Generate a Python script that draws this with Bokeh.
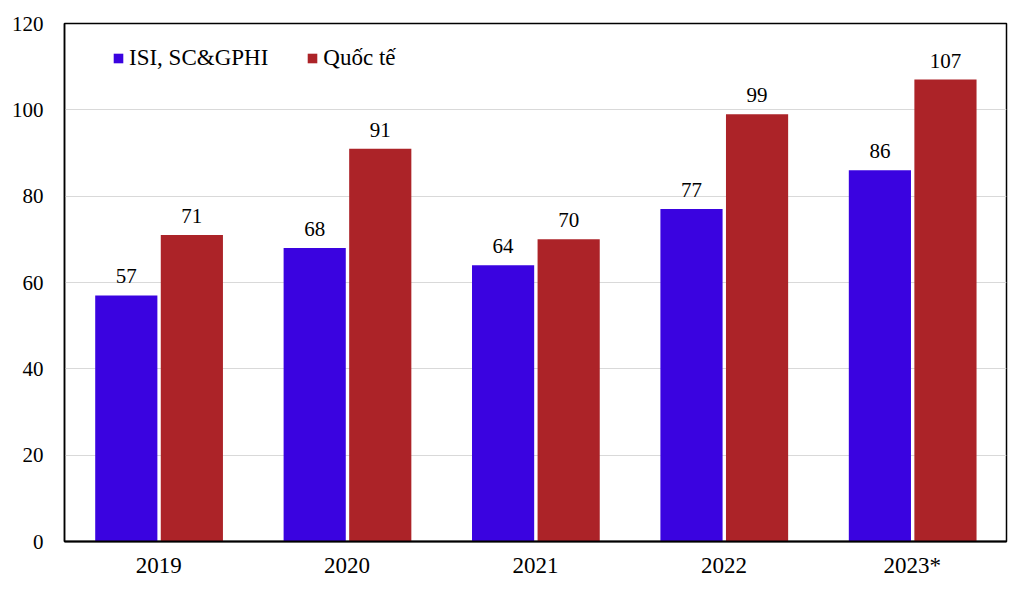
from bokeh.plotting import figure
from bokeh.models import ColumnDataSource, Legend, LegendItem, FactorRange, SingleIntervalTicker
from bokeh.transform import dodge
from bokeh.core.properties import value
from bokeh.embed import file_html
from bokeh.resources import INLINE

years = ["2019", "2020", "2021", "2022", "2023*"]
isi = [57, 68, 64, 77, 86]
quocte = [71, 91, 70, 99, 107]
series_names = ["ISI, SC&GPHI", "Quốc tế"]

FONT = "Liberation Serif"
BLUE = "#3A03E0"
RED = "#AC2328"

src = ColumnDataSource(dict(x=years, isi=isi, qt=quocte,
                            isi_lbl=[str(v) for v in isi],
                            qt_lbl=[str(v) for v in quocte]))

p = figure(width=1008, height=597, x_range=FactorRange(*years), y_range=(0, 120),
           output_backend="svg", toolbar_location=None,
           min_border_left=64, min_border_right=2, min_border_top=23, min_border_bottom=56)

b1 = p.vbar(x=dodge("x", -0.172, range=p.x_range), top="isi", width=0.33, source=src,
            fill_color=BLUE, line_color=None)
b2 = p.vbar(x=dodge("x", 0.176, range=p.x_range), top="qt", width=0.33, source=src,
            fill_color=RED, line_color=None)

p.text(x=dodge("x", -0.172, range=p.x_range), y="isi", text="isi_lbl", source=src,
       text_align="center", text_baseline="bottom", y_offset=-12,
       text_font=value(FONT), text_font_size="21px", text_color="black")
p.text(x=dodge("x", 0.176, range=p.x_range), y="qt", text="qt_lbl", source=src,
       text_align="center", text_baseline="bottom", y_offset=-12,
       text_font=value(FONT), text_font_size="21px", text_color="black")

p.yaxis.ticker = SingleIntervalTicker(interval=20)
for ax in (p.xaxis[0], p.yaxis[0]):
    ax.major_tick_line_color = None
    ax.minor_tick_line_color = None
    ax.major_label_text_font = FONT
    ax.major_label_text_color = "black"
p.yaxis.major_label_text_font_size = "21px"
p.xaxis.major_label_text_font_size = "23px"
p.yaxis.axis_line_color = "black"
p.yaxis.axis_line_width = 1.5
p.yaxis.major_label_standoff = 15
p.xaxis.axis_line_color = "black"
p.xaxis.axis_line_width = 2
p.xaxis.major_label_standoff = 5

p.xgrid.grid_line_color = None
p.ygrid.grid_line_color = "#D9D9D9"
p.ygrid.grid_line_width = 1
p.outline_line_color = "black"
p.outline_line_width = 1.5
p.x_range.range_padding = 0
p.x_range.group_padding = 0

legend = Legend(items=[LegendItem(label=series_names[0], renderers=[b1]),
                       LegendItem(label=series_names[1], renderers=[b2])],
                orientation="horizontal", location=(48, 470),
                glyph_width=12, glyph_height=12, label_standoff=5, spacing=38,
                padding=0, margin=0, border_line_color=None, background_fill_alpha=0,
                label_text_font=FONT, label_text_font_size="23px", label_text_color="black",
                label_height=24)
p.add_layout(legend)

open("out.html", "w").write(file_html(p, INLINE))
